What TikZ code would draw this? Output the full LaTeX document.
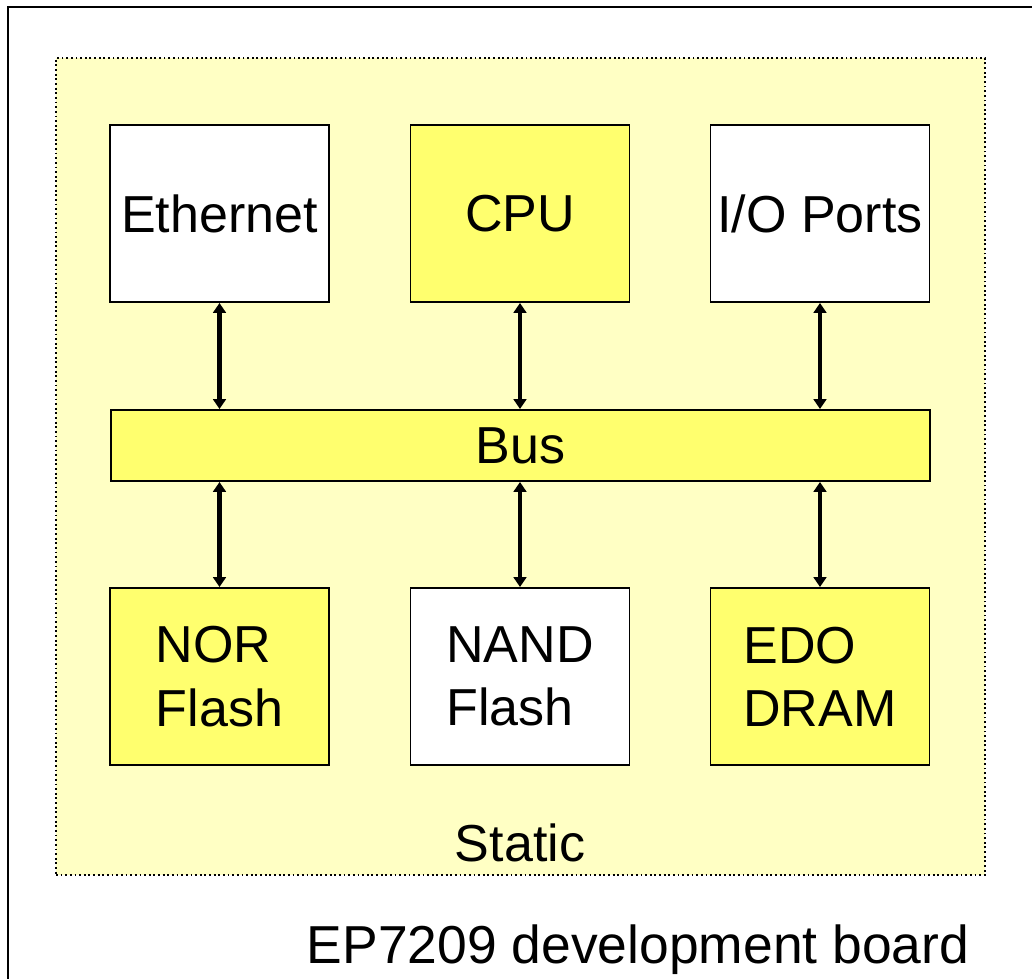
\documentclass[tikz,border=0pt]{standalone}
\usepackage{fontspec}
\setmainfont{Liberation Sans}
\usepackage{tikz}
\usetikzlibrary{positioning,arrows.meta}
\definecolor{boxyellow}{RGB}{255,255,110}
\definecolor{areayellow}{RGB}{255,255,196}

\begin{document}
\begin{tikzpicture}[font=\fontsize{37}{45}\selectfont,
    unit/.style={draw, line width=1.4pt, minimum width=5.475cm, minimum height=4.425cm, align=left, inner sep=0pt},
    busbar/.style={draw, line width=1.4pt, fill=boxyellow, minimum width=20.475cm, minimum height=1.775cm, inner sep=0pt},
    buslink/.style={draw, line width=3pt, arrows={Triangle[width=9pt,length=7pt]-Triangle[width=9pt,length=7pt]}}]
  \useasboundingbox (0,0) rectangle (25.8,-24.475);
  \clip (0,0) rectangle (25.8,-24.475);
  % board frame and static area
  \draw[line width=1.4pt] (0.2,-0.175) rectangle (27,-27);
  \node[draw, dotted, line width=1.3pt, fill=areayellow, minimum width=23.225cm, minimum height=20.425cm, inner sep=0pt]
    (static) at (13.0125,-11.6625) {};
  \node (stlabel) at (13,-21.075) {Static};
  \node[anchor=base, font=\fontsize{38}{45}\selectfont] (title) at (15.95,-24.075) {EP7209 development board};
  % the bus
  \node[busbar] (bus) at (13.0125,-11.1375) {Bus};
  % top row and bottom row
  \foreach \name/\x/\y/\col/\txt in {%
      eth/5.4875/-5.3375/white/Ethernet,
      cpu/13.0/-5.3375/boxyellow/CPU,
      io/20.5/-5.3375/white/{I/O Ports},
      nor/5.4875/-16.9125/boxyellow/{NOR\\Flash},
      nand/13.0/-16.9125/white/{NAND\\Flash},
      dram/20.5/-16.9125/boxyellow/{EDO\\DRAM}}{
    \node[unit, fill=\col] (\name) at (\x,\y) {\txt};
  }
  \foreach \name in {eth,cpu,io}
    \path[buslink] (\name.south) -- (\name.south |- bus.north);
  \foreach \name in {nor,nand,dram}
    \path[buslink] (\name.north |- bus.south) -- (\name.north);
\end{tikzpicture}
\end{document}
